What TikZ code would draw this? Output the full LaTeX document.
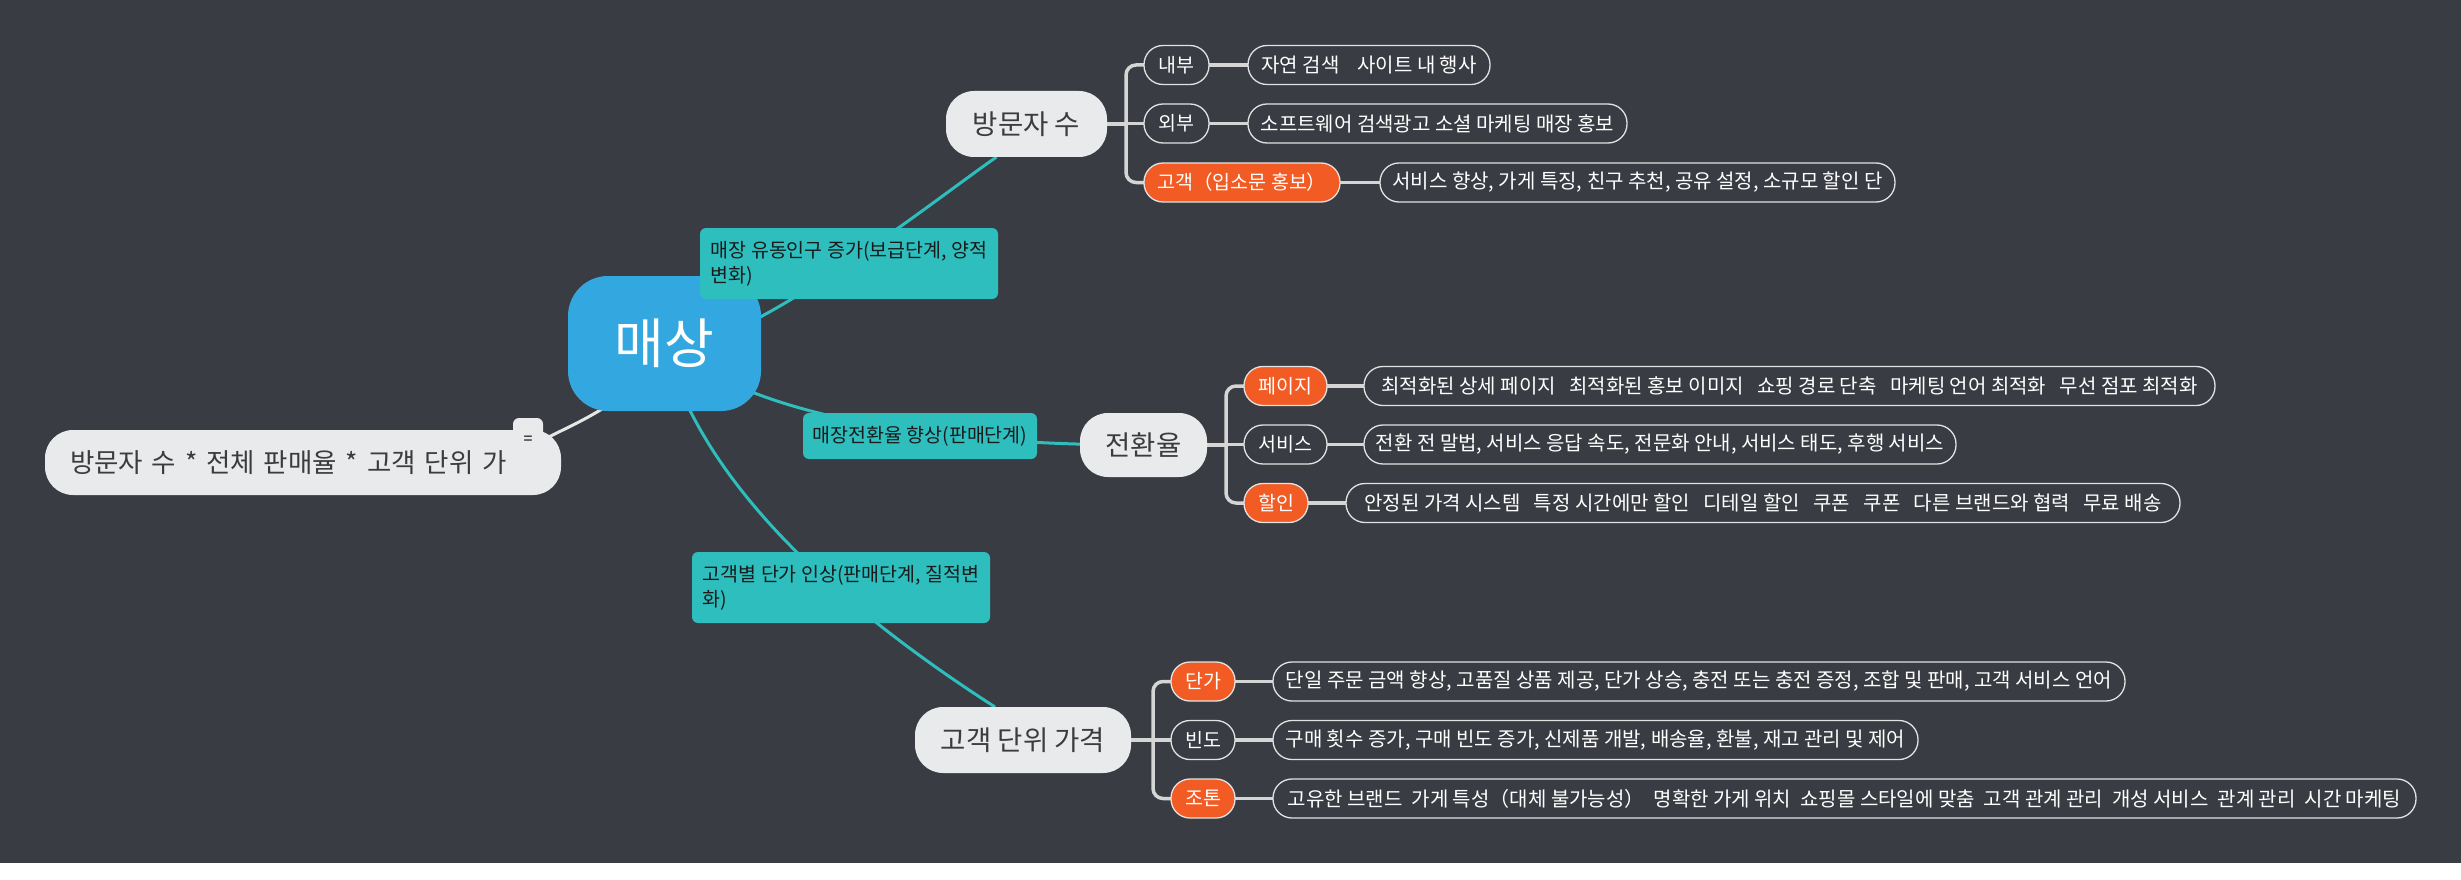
\documentclass[tikz,border=0pt]{standalone}
\usepackage{fontspec}
\setmainfont{Noto Sans CJK KR}
\usetikzlibrary{calc}
\definecolor{cbg}{HTML}{393C42}
\definecolor{cblue}{HTML}{33A8E0}
\definecolor{cteal}{HTML}{2EBEBE}
\definecolor{corange}{HTML}{F25C24}
\definecolor{clight}{HTML}{E9EAEC}
\definecolor{cgraytxt}{HTML}{3C3C3C}
\definecolor{ctealtxt}{HTML}{1A1A1A}
\definecolor{cborder}{HTML}{E2E2E2}
\definecolor{cbr}{HTML}{D5D5D5}
\definecolor{cwline}{HTML}{E6E6E6}
\pgfdeclarelayer{bgl}
\pgfdeclarelayer{conn}
\pgfsetlayers{bgl,conn,main}
\tikzset{
  every node/.style={inner sep=0pt, outer sep=0pt},
  rootbox/.style={fill=cblue, rounded corners=40pt, minimum width=193pt, minimum height=135pt, text=white, font=\fontsize{54}{64}\selectfont},
  tealbox/.style={fill=cteal, rounded corners=6pt, text=ctealtxt, font=\fontsize{19.5}{25}\selectfont},
  graybox/.style={fill=clight, rounded corners=28pt, text=cgraytxt, font=\fontsize{27.5}{33}\selectfont, minimum height=66pt},
  pill/.style={draw=cborder, line width=1.3pt, rounded corners=19pt, minimum height=39pt, text=white, font=\fontsize{20}{24}\selectfont},
  darkpill/.style={pill, fill=cbg, font=\fontsize{19.5}{24}\selectfont},
  orangepill/.style={pill, fill=corange, font=\fontsize{19.5}{24}\selectfont},
  leaf/.style={pill, fill=cbg},
  tealline/.style={draw=cteal, line width=3pt},
  whiteline/.style={draw=cwline, line width=3pt},
  brline/.style={draw=cbr, line width=3.5pt},
}
\begin{document}
\begin{tikzpicture}[x=1pt,y=-1pt]
\begin{pgfonlayer}{bgl}
\fill[white] (0,0) rectangle (2461,880);
\fill[cbg] (0,0) rectangle (2461,863);
\end{pgfonlayer}
\useasboundingbox (0,0) rectangle (2461,880);

% root and main branches
\node[rootbox] (root) at (664.5,343.5) {매상};
\node[tealbox, minimum width=298pt, minimum height=71pt, align=left] (t1) at (849,263.5) {매장 유동인구 증가(보급단계, 양적\\변화)};
\node[tealbox, minimum width=234pt, minimum height=46pt] (t2) at (920,436) {매장전환율 향상(판매단계)};
\node[tealbox, minimum width=298pt, minimum height=71pt, align=left] (t3) at (841,587.5) {고객별 단가 인상(판매단계, 질적변\\화)};
\node[graybox, minimum width=161pt] (fw) at (1026.5,124) {방문자 수};
\node[graybox, minimum width=127pt, minimum height=64pt] (jh) at (1143.5,445) {전환율};
\node[graybox, minimum width=216pt] (gd) at (1023,740) {고객 단위 가격};
\node[graybox, minimum height=65pt, text width=466pt, inner xsep=25pt, align=left, font=\fontsize{26.5}{32}\selectfont] (lf) at (303,462.5) {방문자 수 * 전체 판매율 * 고객 단위 가};
\node[fill=clight, rounded corners=6pt, minimum width=30pt, minimum height=44pt, text=black, font=\fontsize{16}{16}\selectfont] (tab) at (528,440) {=};

% visitors branch
\node[darkpill, minimum width=65pt] (nb) at (1176.5,65) {내부};
\node[darkpill, minimum width=65pt] (wb) at (1176.5,123.5) {외부};
\node[orangepill, minimum width=196pt] (gk) at (1242,182.5) {고객（입소문 홍보）};
\node[leaf, minimum width=242pt] (l1) at (1369,65) {자연 검색~~~~사이트 내 행사};
\node[leaf, minimum width=379pt] (l2) at (1437.5,123.5) {소프트웨어 검색광고 소셜 마케팅 매장 홍보};
\node[leaf, minimum width=515pt] (l3) at (1637.5,182.5) {서비스 향상, 가게 특징, 친구 추천, 공유 설정, 소규모 할인 단};

% conversion branch
\node[orangepill, minimum width=83pt] (pg) at (1285.5,386) {페이지};
\node[darkpill, minimum width=83pt] (sv) at (1285.5,444.5) {서비스};
\node[orangepill, minimum width=64pt] (hl) at (1276,503) {할인};
\node[leaf, minimum width=851pt] (l4) at (1789.5,386) {최적화된 상세 페이지~~~최적화된 홍보 이미지~~~쇼핑 경로 단축~~~마케팅 언어 최적화~~~무선 점포 최적화};
\node[leaf, minimum width=592pt] (l5) at (1660,444.5) {전환 전 말법, 서비스 응답 속도, 전문화 안내, 서비스 태도, 후행 서비스};
\node[leaf, minimum width=834pt] (l6) at (1763,503) {안정된 가격 시스템~~~특정 시간에만 할인~~~디테일 할인~~~쿠폰~~~쿠폰~~~다른 브랜드와 협력~~~무료 배송};

% unit price branch
\node[orangepill, minimum width=64pt] (dg) at (1203,681.5) {단가};
\node[darkpill, minimum width=64pt] (bd) at (1203,740) {빈도};
\node[orangepill, minimum width=64pt] (jt) at (1203,798.5) {조톤};
\node[leaf, minimum width=852pt] (l7) at (1699,681.5) {단일 주문 금액 향상, 고품질 상품 제공, 단가 상승, 충전 또는 충전 증정, 조합 및 판매, 고객 서비스 언어};
\node[leaf, minimum width=645pt] (l8) at (1595.5,740) {구매 횟수 증가, 구매 빈도 증가, 신제품 개발, 배송율, 환불, 재고 관리 및 제어};
\node[leaf, minimum width=1143pt] (l9) at (1844.5,798.5) {고유한 브랜드~~가게 특성（대체 불가능성）~~명확한 가게 위치~~쇼핑몰 스타일에 맞춤~~고객 관계 관리~~개성 서비스~~관계 관리~~시간 마케팅};

\begin{pgfonlayer}{conn}
\draw[tealline] (root.center) .. controls (720,370) and (936,198.7) .. ($(fw.south)+(-30,0)$);
\draw[tealline] (root.center) .. controls (748,411) and (907.7,445) .. (jh.center);
\draw[tealline] (root.center) .. controls (696,464.3) and (806.3,585.7) .. ($(gd.north)+(-28,0)$);
\draw[whiteline] (root.center) .. controls (640,400) and (570,425) .. (tab.east);

\draw[brline] (fw.east) -- ++(19,0) coordinate (fwS);
\draw[brline, rounded corners=10pt] (fwS) |- (nb.west);
\draw[brline] (fwS) |- (wb.west);
\draw[brline, rounded corners=10pt] (fwS) |- (gk.west);
\draw[brline] (nb.east) -- (l1.west);
\draw[brline] (wb.east) -- (l2.west);
\draw[brline] (gk.east) -- (l3.west);

\draw[brline] (jh.east) -- ++(19,0) coordinate (jhS);
\draw[brline, rounded corners=10pt] (jhS) |- (pg.west);
\draw[brline] (jhS) |- (sv.west);
\draw[brline, rounded corners=10pt] (jhS) |- (hl.west);
\draw[brline] (pg.east) -- (l4.west);
\draw[brline] (sv.east) -- (l5.west);
\draw[brline] (hl.east) -- (l6.west);

\draw[brline] (gd.east) -- ++(22,0) coordinate (gdS);
\draw[brline, rounded corners=10pt] (gdS) |- (dg.west);
\draw[brline] (gdS) |- (bd.west);
\draw[brline, rounded corners=10pt] (gdS) |- (jt.west);
\draw[brline] (dg.east) -- (l7.west);
\draw[brline] (bd.east) -- (l8.west);
\draw[brline] (jt.east) -- (l9.west);
\end{pgfonlayer}
\end{tikzpicture}
\end{document}
